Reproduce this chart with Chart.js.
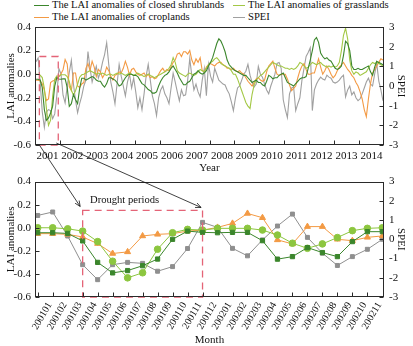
<!DOCTYPE html>
<html><head><meta charset="utf-8">
<script src="https://cdn.jsdelivr.net/npm/chart.js@4.4.0/dist/chart.umd.min.js"></script>
<style>
html,body{margin:0;padding:0;background:#fff;}
#wrap{position:relative;width:413px;height:346px;overflow:hidden;font-family:"Liberation Serif","Times New Roman",serif;color:#111;}
canvas{position:absolute;left:0;}
#cTop{top:0;}
#cBot{top:170px;}
#ov{top:0;pointer-events:none;}
.lt{position:absolute;font-size:10.6px;line-height:12px;white-space:nowrap;}
.sw{position:absolute;height:0;border-top:1.4px solid;}
#dp{position:absolute;left:90px;top:193px;font-size:10.6px;line-height:13px;white-space:nowrap;}
</style></head>
<body>
<div id="wrap">
  <div class="sw" style="left:34px;top:5px;width:15px;border-color:#3b862c"></div>
  <div class="lt" style="left:52px;top:-1px">The LAI anomalies of closed shrublands</div>
  <div class="sw" style="left:233px;top:5px;width:12px;border-color:#a3c845"></div>
  <div class="lt" style="left:248px;top:-1px">The LAI anomalies of grasslands</div>
  <div class="sw" style="left:34px;top:16.5px;width:15px;border-color:#f39a44"></div>
  <div class="lt" style="left:52px;top:10.5px">The LAI anomalies of croplands</div>
  <div class="sw" style="left:233px;top:16.5px;width:12px;border-color:#a0a0a0"></div>
  <div class="lt" style="left:248px;top:10.5px">SPEI</div>
  <canvas id="cTop" width="413" height="175"></canvas>
  <canvas id="cBot" width="413" height="176"></canvas>
  <canvas id="ov" width="413" height="346"></canvas>
  <div id="dp">Drought periods</div>
</div>
<script>
// ---------------- data ----------------
const years = ['2001','2002','2003','2004','2005','2006','2007','2008','2009','2010','2011','2012','2013','2014'];
const monthLabels = ['200101','200102','200103','200104','200105','200106','200107','200108','200109','200110','200111','200112',
  '200201','200202','200203','200204','200205','200206','200207','200208','200209','200210','200211'];

// monthly LAI anomalies, Jan 2001 - Dec 2014
const shrub = [
 -0.043,-0.043,-0.049,-0.114,-0.300,-0.391,-0.371,-0.329,-0.271,-0.100,-0.029,-0.040,
 -0.043,-0.040,-0.040,-0.112,-0.272,-0.250,-0.172,-0.215,-0.250,-0.120,-0.034,-0.034,
 -0.05,-0.04,-0.03,-0.02,-0.03,-0.05,-0.06,-0.06,-0.09,-0.11,-0.08,-0.03,
 -0.03,-0.04,-0.05,-0.07,-0.10,-0.09,-0.06,-0.03,-0.01,0.00,0.00,-0.01,
 -0.01,-0.02,-0.05,-0.08,-0.09,-0.11,-0.13,-0.14,-0.16,-0.16,-0.15,-0.10,
 -0.06,-0.03,-0.01,0.00,0.02,0.05,0.07,0.04,0.01,-0.03,-0.06,-0.09,
 -0.09,-0.07,-0.06,-0.03,0.00,0.01,0.03,0.01,0.00,0.01,0.03,0.07,
 0.10,0.14,0.20,0.26,0.30,0.28,0.24,0.19,0.12,0.08,0.06,0.04,
 0.03,0.02,0.01,0.00,-0.01,-0.01,-0.03,-0.05,-0.07,-0.06,-0.05,-0.07,
 -0.07,-0.09,-0.10,-0.06,-0.01,-0.02,-0.04,-0.03,-0.03,-0.01,0.00,0.01,
 -0.03,-0.07,-0.08,-0.09,-0.10,-0.08,-0.06,-0.04,-0.03,-0.03,-0.02,0.05,
 0.12,0.20,0.29,0.31,0.27,0.18,0.15,0.13,0.14,0.12,0.11,0.08,
 0.05,0.04,0.05,0.07,0.16,0.28,0.26,0.20,0.07,0.04,0.04,0.05,
 0.04,0.04,0.05,0.06,0.07,0.02,-0.01,0.06,0.11,0.10,0.09,0.08];
const grass = [
 0.000,0.000,-0.009,-0.029,-0.120,-0.290,-0.434,-0.390,-0.186,-0.043,-0.014,-0.020,
 -0.005,-0.005,-0.005,-0.020,-0.063,-0.134,-0.178,-0.140,-0.085,-0.025,-0.005,0.000,
 0.01,0.02,0.03,0.02,0.01,0.00,0.01,0.00,0.01,0.00,-0.01,0.00,
 0.00,-0.01,0.00,0.01,0.00,0.01,0.00,-0.01,0.00,0.01,0.00,-0.01,
 0.00,0.01,0.00,-0.01,-0.02,-0.01,0.00,-0.01,-0.02,-0.03,-0.02,-0.01,
 0.00,0.01,0.02,0.03,0.05,0.08,0.14,0.10,0.03,0.01,0.00,-0.01,
 -0.02,0.00,0.01,0.00,-0.01,0.00,0.02,0.04,0.03,0.02,0.05,0.08,
 0.10,0.11,0.13,0.14,0.12,0.09,0.08,0.07,0.06,0.05,0.03,0.00,
 0.00,-0.04,-0.09,-0.14,-0.19,-0.24,-0.27,-0.29,-0.17,-0.09,-0.05,-0.03,
 -0.01,0.00,0.02,0.04,0.06,0.08,0.10,0.09,0.08,0.07,0.07,0.06,
 0.05,0.05,0.04,0.05,0.04,0.05,0.07,0.10,0.09,0.07,0.05,0.06,
 0.08,0.10,0.09,0.08,0.09,0.10,0.08,0.07,0.06,0.07,0.06,0.07,
 0.06,0.07,0.10,0.20,0.33,0.39,0.30,0.12,0.03,0.00,0.02,0.01,
 -0.01,0.00,0.01,0.02,0.05,0.08,0.10,0.09,0.10,0.09,0.08,0.07];
const crop = [
 -0.051,-0.051,-0.057,-0.080,-0.137,-0.223,-0.209,-0.071,-0.057,-0.051,-0.029,-0.020,
 0.003,0.038,0.124,0.087,-0.105,-0.140,0.010,0.010,-0.100,-0.112,-0.083,-0.071,
 0.05,0.09,0.03,0.11,0.06,-0.02,0.04,0.02,-0.03,0.00,0.06,0.03,
 -0.02,-0.05,-0.01,0.00,0.02,0.01,0.05,0.11,0.06,-0.01,0.04,0.05,
 0.02,0.00,-0.01,0.00,0.01,-0.02,0.00,-0.03,-0.02,-0.04,-0.03,0.00,
 0.03,0.05,0.02,0.04,0.03,0.06,0.10,0.12,0.17,0.18,0.15,0.19,
 0.19,0.17,0.20,0.12,0.08,0.13,0.10,0.14,0.03,0.02,0.06,0.08,
 0.09,0.08,0.07,0.09,0.10,0.10,0.08,0.07,0.05,0.05,0.04,0.05,
 0.03,0.02,0.03,0.01,0.00,-0.03,-0.06,-0.08,-0.10,-0.07,-0.04,-0.03,
 -0.05,-0.06,-0.05,0.02,0.07,0.09,0.11,0.05,0.00,-0.01,0.00,0.00,
 0.00,-0.04,-0.09,-0.14,-0.12,-0.10,-0.03,0.03,0.07,0.09,0.04,0.00,
 0.00,0.01,0.01,0.07,0.13,0.06,0.00,0.03,0.07,0.04,0.00,-0.03,
 -0.01,0.03,0.06,0.08,0.10,0.07,0.04,0.02,-0.01,-0.03,-0.07,-0.10,
 -0.15,-0.21,-0.30,-0.36,-0.21,-0.08,0.01,0.04,0.07,0.10,0.13,0.12];
// monthly SPEI
const spei = [
 1.24,1.42,0.17,-1.32,-2.10,-1.32,-1.20,-1.25,-1.66,-1.42,-0.48,0.88,
 0.62,-0.47,-0.86,-0.03,0.69,1.31,0.10,-0.72,-1.36,-0.90,-0.52,0.00,
 0.30,1.75,0.90,0.20,0.60,1.00,0.40,0.70,1.20,1.60,2.20,1.10,
 0.20,-0.30,-0.90,0.10,1.10,0.50,0.00,-0.50,0.20,0.60,-0.10,0.40,
 -0.30,-1.10,-0.60,-1.20,-0.40,0.50,1.10,0.30,-0.50,-0.90,-1.50,-0.60,
 -0.20,0.00,-0.40,-0.60,-0.90,-0.10,0.65,0.20,-0.30,-0.75,-0.20,-0.50,
 -0.45,0.30,1.40,0.50,-0.20,0.10,-0.30,-0.55,0.30,0.90,-0.50,1.10,
 0.50,0.20,0.90,0.60,0.30,0.20,0.10,0.05,-0.20,-0.40,-0.80,-1.25,
 -0.60,-0.10,0.00,0.30,0.60,0.75,1.10,0.55,0.20,-0.05,0.10,1.00,
 0.60,0.45,0.10,-0.20,-0.40,0.00,0.30,0.60,1.15,1.20,0.90,-0.70,
 -1.20,-1.60,-0.40,-0.10,-0.05,-1.25,-0.90,-0.60,0.30,0.90,1.50,1.70,
 1.95,-1.25,-0.20,0.10,0.30,0.45,0.35,0.30,0.55,0.45,0.40,0.20,
 0.15,0.20,0.30,0.45,0.55,-0.55,-0.20,0.00,-0.45,-0.30,-0.60,-0.75,
 -0.65,-0.40,-0.10,0.20,0.40,0.10,0.00,0.60,1.15,0.25,-0.20,-0.75];

// zoomed period (first 24 months) for lower panel
const zoomMonths = 24;
// drought period boxes (month index in each panel, LAI range)
const topBox = {x0:1.6, x1:10.7, y0:-0.6, y1:0.15};
const botBox = {x0:3, x1:11, y0:-0.6, y1:0.15};

// ---------------- styles ----------------
const C = {shrub:'#3b862c', grass:'#a3c845', grassM:'#8cc63f', crop:'#f39a44', spei:'#a0a0a0', speiM:'#8f8f8f', red:'#e46477'};
const FONT = {family:'"Liberation Serif","Times New Roman",serif', size:11};

const toXY = arr => arr.map((v,i)=>({x:i,y:v}));

const frameTicks = {
  id:'frameTicks',
  afterDraw(chart){
    const {ctx, chartArea:a, scales} = chart;
    const L=Math.round(a.left)+0.5, R=Math.round(a.right)-0.5, T=Math.round(a.top)+0.5, B=Math.round(a.bottom)-0.5;
    ctx.save();
    ctx.strokeStyle='#2a2a2a'; ctx.lineWidth=1;
    ctx.strokeRect(L,T,R-L,B-T);
    const tl=4;
    ctx.beginPath();
    scales.x.ticks.forEach(t=>{const p=Math.round(scales.x.getPixelForValue(t.value))+0.5; if(p>L+1&&p<R-1){ctx.moveTo(p,B);ctx.lineTo(p,B-tl);}});
    scales.y.ticks.forEach(t=>{const p=Math.round(scales.y.getPixelForValue(t.value))+0.5; ctx.moveTo(L,p);ctx.lineTo(L+tl,p);});
    scales.y2.ticks.forEach(t=>{const p=Math.round(scales.y2.getPixelForValue(t.value))+0.5; ctx.moveTo(R,p);ctx.lineTo(R-tl,p);});
    ctx.stroke();
    ctx.restore();
  }
};
const droughtBox = {
  id:'droughtBox',
  afterDatasetsDraw(chart, args, o){
    const {ctx, scales} = chart;
    const x0=scales.x.getPixelForValue(o.x0), x1=scales.x.getPixelForValue(o.x1);
    const y0=scales.y.getPixelForValue(o.y0), y1=scales.y.getPixelForValue(o.y1);
    ctx.save();
    ctx.strokeStyle=C.red; ctx.lineWidth=1.3; ctx.setLineDash([7,5]);
    ctx.strokeRect(x0,y1,x1-x0,y0-y1);
    ctx.restore();
  }
};

function yAxes(){
  return {
    y:{type:'linear',position:'left',min:-0.6,max:0.4,
       ticks:{stepSize:0.2,padding:4,color:'#111',font:FONT,callback:v=>Math.abs(v)<1e-9?'0.0':v.toFixed(1)},
       grid:{display:false,drawTicks:false},border:{display:false},
       title:{display:true,text:'LAI anomalies',color:'#111',font:FONT,padding:{top:5,bottom:0}},
       afterFit:s=>{s.width=35;}},
    y2:{type:'linear',position:'right',min:-3,max:3,
       ticks:{stepSize:1,padding:5,color:'#111',font:FONT},
       grid:{display:false,drawTicks:false},border:{display:false},
       title:{display:true,text:'SPEI',color:'#111',font:FONT,padding:{top:6,bottom:0}},
       afterFit:s=>{s.width=29;}}
  };
}

// ---------------- top chart ----------------
const topChart = new Chart(document.getElementById('cTop'), {
  type:'line',
  data:{datasets:[
    {label:'The LAI anomalies of closed shrublands',data:toXY(shrub),borderColor:C.shrub,borderWidth:1.1,pointRadius:0,yAxisID:'y',order:1},
    {label:'The LAI anomalies of grasslands',data:toXY(grass),borderColor:C.grass,borderWidth:1.1,pointRadius:0,yAxisID:'y',order:2},
    {label:'The LAI anomalies of croplands',data:toXY(crop),borderColor:C.crop,borderWidth:1.1,pointRadius:0,yAxisID:'y',order:3},
    {label:'SPEI',data:toXY(spei),borderColor:C.spei,borderWidth:1.1,pointRadius:0,yAxisID:'y2',order:4}
  ]},
  options:{
    responsive:false,animation:false,
    layout:{padding:{top:27,left:0,right:0,bottom:0}},
    plugins:{legend:{display:false},tooltip:{enabled:false},droughtBox:topBox},
    scales:Object.assign({
      x:{type:'linear',min:-0.5,max:years.length*12-0.5,
         afterBuildTicks:s=>{s.ticks=years.concat(['']).map((y,k)=>({value:-0.5+12*k}));},
         ticks:{autoSkip:false,maxRotation:0,minRotation:0,padding:5,color:'#111',font:FONT,
                labelOffset:12.4,
                callback:(v,i)=>years[i]||''},
         grid:{display:false,drawTicks:false},border:{display:false},
         title:{display:true,text:'Year',color:'#111',font:FONT,padding:{top:1,bottom:0}},
         afterFit:s=>{s.height=30;}}
    }, yAxes())
  },
  plugins:[frameTicks,droughtBox]
});

// ---------------- bottom chart ----------------
const botChart = new Chart(document.getElementById('cBot'), {
  type:'line',
  data:{datasets:[
    {label:'shrub',data:toXY(shrub.slice(0,zoomMonths)),borderColor:C.shrub,backgroundColor:C.shrub,borderWidth:1,pointStyle:'rect',pointRadius:3,yAxisID:'y',order:1},
    {label:'grass',data:toXY(grass.slice(0,zoomMonths)),borderColor:C.grassM,backgroundColor:C.grassM,borderWidth:1,pointStyle:'circle',pointRadius:3.3,yAxisID:'y',order:2},
    {label:'crop',data:toXY(crop.slice(0,zoomMonths)),borderColor:C.crop,backgroundColor:C.crop,borderWidth:1,pointStyle:'triangle',pointRadius:3.5,yAxisID:'y',order:3},
    {label:'SPEI',data:toXY(spei.slice(0,zoomMonths)),borderColor:C.speiM,backgroundColor:C.speiM,borderWidth:1,pointStyle:'rect',pointRadius:2.8,yAxisID:'y2',order:4}
  ]},
  options:{
    responsive:false,animation:false,
    layout:{padding:{top:10,left:0,right:0,bottom:0}},
    plugins:{legend:{display:false},tooltip:{enabled:false},droughtBox:botBox},
    scales:Object.assign({
      x:{type:'linear',min:-0.18,max:zoomMonths-1+0.11,
         afterBuildTicks:s=>{s.ticks=Array.from({length:zoomMonths},(_,i)=>({value:i}));},
         ticks:{autoSkip:false,maxRotation:60,minRotation:60,padding:3,labelOffset:12,color:'#111',
                font:{family:FONT.family,size:10},
                callback:(v)=>monthLabels[v]||''},
         grid:{display:false,drawTicks:false},border:{display:false},
         title:{display:true,text:'Month',color:'#111',font:{family:FONT.family,size:11,lineHeight:1},padding:{top:0,bottom:0}},
         afterFit:s=>{s.height=49;}}
    }, yAxes())
  },
  plugins:[frameTicks,droughtBox]
});

// ---------------- arrows linking the panels ----------------
(function(){
  const ov=document.getElementById('ov'), ctx=ov.getContext('2d');
  const botTop=170;
  const tx=topChart.scales.x, ty=topChart.scales.y, bx=botChart.scales.x, by=botChart.scales.y;
  function arrow(x1,y1,x2,y2){
    ctx.beginPath(); ctx.moveTo(x1,y1); ctx.lineTo(x2,y2); ctx.stroke();
    const a=Math.atan2(y2-y1,x2-x1), h=6, w=0.42;
    ctx.beginPath();
    ctx.moveTo(x2-h*Math.cos(a-w),y2-h*Math.sin(a-w));
    ctx.lineTo(x2,y2);
    ctx.lineTo(x2-h*Math.cos(a+w),y2-h*Math.sin(a+w));
    ctx.stroke();
  }
  ctx.strokeStyle='#111'; ctx.lineWidth=0.8;
  arrow(tx.getPixelForValue(topBox.x0), ty.getPixelForValue(topBox.y0),
        bx.getPixelForValue(botBox.x0)-2.5, botTop+by.getPixelForValue(botBox.y1)-4);
  arrow(tx.getPixelForValue(topBox.x1)-2, ty.getPixelForValue(topBox.y0)-2,
        bx.getPixelForValue(botBox.x1)-1.5, botTop+by.getPixelForValue(botBox.y1)-3);
})();
</script>
</body></html>
